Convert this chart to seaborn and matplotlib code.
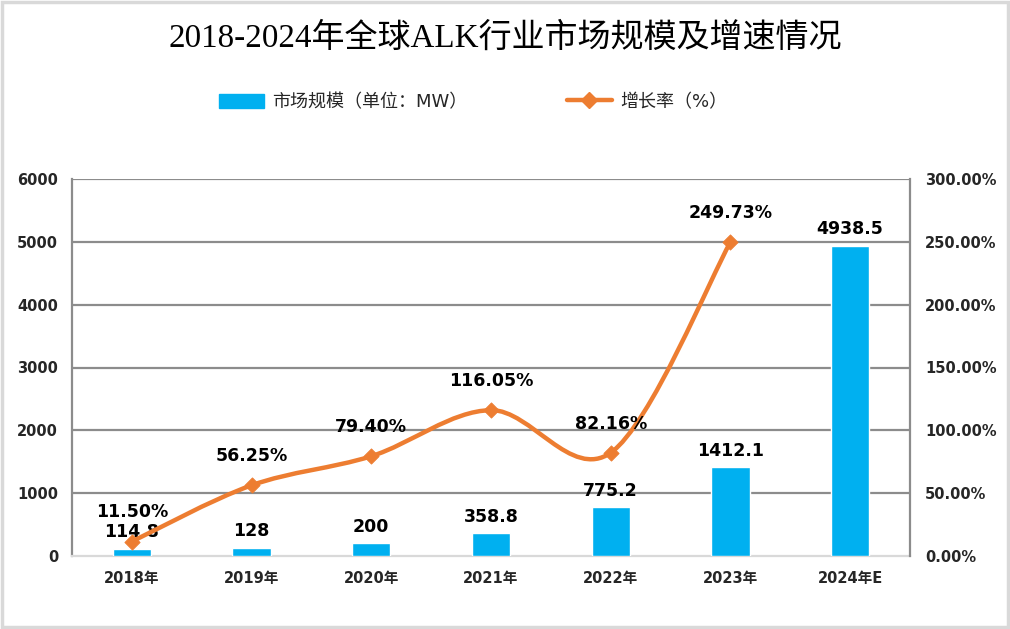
import matplotlib
matplotlib.use("Agg")
import matplotlib.pyplot as plt
import seaborn as sns
import numpy as np
import pandas as pd
from matplotlib.path import Path
from matplotlib.patches import PathPatch, Rectangle
from matplotlib.lines import Line2D
from matplotlib.patches import Patch
from matplotlib.ticker import FuncFormatter

# ---- data ----
categories = ["2018年", "2019年", "2020年", "2021年", "2022年", "2023年", "2024年E"]
market_size = [114.8, 128, 200, 358.8, 775.2, 1412.1, 4938.5]
growth_years = ["2018年", "2019年", "2020年", "2021年", "2022年", "2023年"]
growth_rate = [11.50, 56.25, 79.40, 116.05, 82.16, 249.73]
title = "2018-2024年全球ALK行业市场规模及增速情况"
bar_legend = "市场规模（单位：MW）"
line_legend = "增长率（%）"

BAR_C = "#00B0F0"
LINE_C = "#ED7D31"
GRID_C = "#8C8C8C"
NUM_FONT = ["DejaVu Sans", "Noto Sans CJK SC"]

sns.set_theme(style="white")
plt.rcParams["font.family"] = NUM_FONT

fig = plt.figure(figsize=(10.1, 6.29), dpi=100)
ax = fig.add_axes([72 / 1010, 1 - 556 / 629, (910 - 72) / 1010, (556 - 179) / 629])

df = pd.DataFrame({"cat": categories, "val": market_size})
sns.barplot(data=df, x="cat", y="val", color=BAR_C, saturation=1, width=0.32, ax=ax, zorder=3)
ax.set_xlim(-0.5, len(categories) - 0.5)
ax.set_ylim(0, 6000)
ax.set_yticks(np.arange(0, 6001, 1000))
ax.set_xlabel("")
ax.set_ylabel("")
for y in np.arange(1000, 6001, 1000):
    ax.axhline(y, color=GRID_C, lw=1.6, zorder=1)
ax.tick_params(axis="both", length=0)
ax.tick_params(axis="y", pad=10, labelsize=10.5)
ax.tick_params(axis="x", pad=11, labelsize=10.5)
for lab in ax.get_yticklabels() + ax.get_xticklabels():
    lab.set_fontweight("bold")
for s in ["top", "right"]:
    ax.spines[s].set_visible(False)
ax.spines["left"].set_color(GRID_C)
ax.spines["left"].set_linewidth(1.6)
ax.spines["bottom"].set_color("#D9D9D9")
ax.spines["bottom"].set_linewidth(1.6)

for i, v in enumerate(market_size):
    ax.annotate(f"{v:g}", (i, v), xytext=(0, 12), textcoords="offset points",
                ha="center", va="center", fontsize=12.5, fontweight="bold", color="black", zorder=6)

ax2 = ax.twinx()
ax2.set_ylim(0, 300)
ax2.set_yticks(np.arange(0, 301, 50))
ax2.yaxis.set_major_formatter(FuncFormatter(lambda v, p: f"{v:.2f}%"))
ax2.tick_params(axis="y", length=0, pad=11, labelsize=10.5)
for lab in ax2.get_yticklabels():
    lab.set_fontweight("bold")
for s in ["top", "left", "bottom"]:
    ax2.spines[s].set_visible(False)
ax2.spines["right"].set_color(GRID_C)
ax2.spines["right"].set_linewidth(1.6)
ax2.grid(False)

# smoothed line (Catmull-Rom bezier like Excel)
xs = np.arange(len(growth_rate), dtype=float)
pts = np.column_stack([xs, growth_rate])
verts = [tuple(pts[0])]
codes = [Path.MOVETO]
n = len(pts)
for i in range(n - 1):
    p0 = pts[i - 1] if i > 0 else pts[i]
    p1 = pts[i]
    p2 = pts[i + 1]
    p3 = pts[i + 2] if i + 2 < n else pts[i + 1]
    c1 = p1 + (p2 - p0) / 6
    c2 = p2 - (p3 - p1) / 6
    verts += [tuple(c1), tuple(c2), tuple(p2)]
    codes += [Path.CURVE4] * 3
ax2.add_patch(PathPatch(Path(verts, codes), facecolor="none", edgecolor=LINE_C, lw=3.2,
                        capstyle="round", joinstyle="round", zorder=4))
gdf = pd.DataFrame({"x": xs, "g": growth_rate})
sns.scatterplot(data=gdf, x="x", y="g", marker="D", s=60, color=LINE_C, edgecolor=LINE_C,
                ax=ax2, zorder=5, legend=False)
ax2.set_xlim(-0.5, len(categories) - 0.5)
ax2.set_xlabel("")
ax2.set_ylabel("")
for i, g in enumerate(growth_rate):
    ax2.annotate(f"{g:.2f}%", (i, g), xytext=(0, 21), textcoords="offset points",
                 ha="center", va="center", fontsize=12.5, fontweight="bold", color="black", zorder=6)

# title
fig.text(0.5, 1 - 38 / 629, title, ha="center", va="center", fontsize=23.8,
         family=["Liberation Serif", "Noto Sans CJK SC"], fontweight="medium", color="black")

# legend
handles = [Patch(facecolor=BAR_C, edgecolor=BAR_C),
           Line2D([0], [0], color=LINE_C, lw=3.2, marker="D", markersize=8)]
fig.legend(handles, [bar_legend, line_legend], loc="center", bbox_to_anchor=(473 / 1010, 1 - 102 / 629),
           ncol=2, frameon=False, handlelength=2.5, handleheight=0.8, handletextpad=0.45,
           columnspacing=5.5, prop={"family": ["DejaVu Sans", "Noto Sans CJK SC"], "size": 13})

# figure border
fig.patches.append(Rectangle((0.002, 0.003), 0.996, 0.994, transform=fig.transFigure,
                             fill=False, edgecolor="#D9D9D9", lw=2.5))

fig.savefig("out.png", dpi=100)
